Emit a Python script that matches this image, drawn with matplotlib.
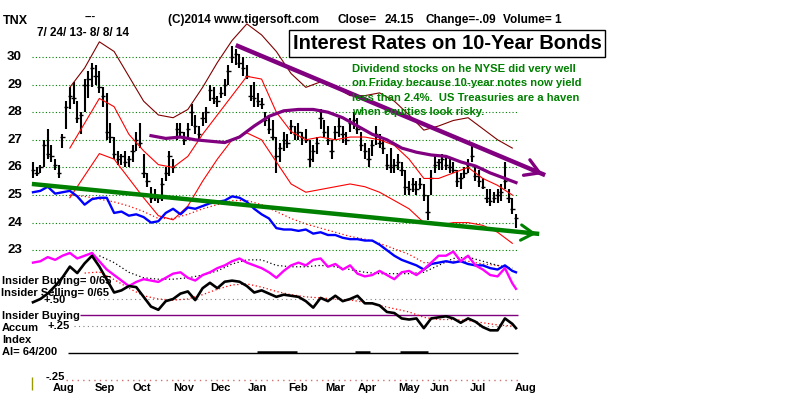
import numpy as np
import matplotlib
matplotlib.use('Agg')
from matplotlib import pyplot as plt

# TNX (10-year yield x10), 7/24/13 - 8/8/14.
# One bar per two sessions.
highs = [26.2, 26.0, 26.1, 27.0, 27.4, 26.8, 26.3, 26.1, 27.2, 28.4,
         28.9, 29.1, 28.4, 28.0, 29.2, 29.5, 29.8, 29.7, 29.5, 28.9,
         28.7, 27.6, 27.1, 26.6, 26.5, 26.6, 26.4, 26.8, 27.3, 27.6,
         26.5, 25.8, 25.3, 25.2, 25.0, 25.6, 26.0, 26.6, 26.3, 27.6,
         27.6, 27.3, 27.6, 28.3, 27.9, 27.5, 28.0, 28.2, 29.0, 28.9,
         28.6, 28.9, 29.2, 29.7, 30.4, 30.3, 30.1, 30.0, 29.7, 29.0,
         29.1, 28.7, 28.5, 28.0, 27.9, 27.7, 27.1, 26.9, 27.3, 27.2,
         27.7, 27.5, 27.6, 27.3, 27.4, 27.0, 26.8, 27.1, 28.1, 27.7,
         27.5, 27.0, 27.5, 27.8, 27.5, 27.3, 27.8, 28.0, 27.8, 27.3,
         26.9, 26.7, 27.0, 27.5, 27.2, 27.0, 26.5, 26.7, 26.3, 26.5,
         26.2, 25.9, 25.5, 25.6, 25.5, 25.6, 25.4, 25.0, 25.9, 26.4,
         26.3, 26.5, 26.4, 26.3, 26.2, 25.9, 25.8, 26.0, 26.3, 26.9,
         26.1, 25.9, 25.6, 25.2, 25.2, 25.1, 25.2, 25.4, 26.2, 25.2,
         24.9, 24.3]
lows = [25.6, 25.7, 25.8, 26.0, 26.3, 26.2, 25.9, 25.6, 26.7, 27.4,
        28.1, 28.3, 27.6, 27.2, 28.0, 28.5, 28.9, 29.0, 28.7, 28.2,
        27.0, 26.9, 26.3, 26.1, 26.1, 26.0, 26.0, 26.2, 26.6, 26.7,
        25.6, 25.3, 24.7, 24.8, 24.7, 24.8, 25.5, 25.7, 25.8, 27.0,
        27.1, 26.8, 27.1, 27.5, 27.2, 27.0, 27.5, 27.6, 28.4, 28.3,
        28.2, 28.5, 28.6, 29.0, 29.8, 29.7, 29.6, 29.3, 29.2, 28.4,
        28.2, 28.2, 28.1, 27.5, 27.2, 27.0, 25.8, 26.2, 26.6, 26.7,
        27.2, 27.0, 27.0, 26.8, 26.9, 26.0, 26.2, 26.5, 27.4, 27.1,
        26.8, 26.3, 27.0, 27.1, 26.9, 26.8, 27.3, 27.4, 27.2, 26.6,
        26.3, 26.0, 26.4, 26.8, 26.7, 26.5, 25.9, 25.8, 25.8, 25.9,
        25.7, 25.0, 25.0, 25.1, 25.0, 25.2, 24.8, 24.1, 25.0, 25.8,
        25.9, 25.9, 25.9, 25.8, 25.8, 25.3, 25.2, 25.6, 25.8, 26.2,
        25.5, 25.3, 25.2, 24.7, 24.6, 24.7, 24.7, 24.8, 25.2, 24.7,
        24.3, 23.8]
closes = [25.9, 25.8, 26.0, 26.8, 26.5, 26.4, 26.1, 25.8, 27.1, 28.2,
          28.6, 28.5, 27.8, 27.9, 29.0, 29.2, 29.6, 29.3, 28.9, 28.6,
          27.3, 27.1, 26.5, 26.3, 26.4, 26.2, 26.3, 26.6, 27.0, 26.9,
          25.8, 25.5, 24.9, 25.0, 24.9, 25.4, 25.8, 26.4, 26.0, 27.4,
          27.3, 27.0, 27.4, 28.0, 27.5, 27.2, 27.8, 28.0, 28.8, 28.5,
          28.4, 28.7, 29.0, 29.5, 30.0, 30.1, 29.8, 29.6, 29.3, 28.6,
          28.5, 28.4, 28.3, 27.7, 27.4, 27.1, 26.4, 26.7, 27.0, 26.9,
          27.5, 27.2, 27.3, 27.1, 27.0, 26.3, 26.6, 26.9, 27.8, 27.3,
          27.0, 26.6, 27.3, 27.5, 27.2, 27.0, 27.6, 27.7, 27.4, 26.8,
          26.6, 26.3, 26.8, 27.2, 26.9, 26.7, 26.1, 26.0, 26.1, 26.2,
          25.9, 25.3, 25.2, 25.4, 25.2, 25.4, 25.0, 24.4, 25.6, 26.1,
          26.2, 26.3, 26.1, 26.0, 25.9, 25.5, 25.6, 25.8, 26.1, 26.4,
          25.7, 25.5, 25.3, 24.9, 24.8, 24.9, 25.0, 25.1, 25.5, 24.9,
          24.5, 24.15]

# bands, sampled every 4 bars from bar 10
band_x = np.arange(10, 131, 4)
upper_outer = [28.9, 29.6, 30.55, 30.2, 29.3, 28.4, 27.9, 27.8, 28.1, 28.9,
               29.8, 30.6, 31.2, 30.8, 30.2, 29.4, 28.9, 29.1, 28.9, 28.6,
               28.6, 28.7, 28.4, 27.9, 27.35, 27.5, 27.7, 27.8, 27.4, 27.0,
               26.7]
upper_inner = [26.7, 27.6, 28.5, 28.2, 27.2, 26.6, 26.1, 26.0, 26.4, 27.2,
               27.9, 28.6, 29.3, 29.2, 28.0, 27.3, 27.0, 27.1, 27.0, 27.1,
               27.1, 27.0, 26.8, 26.3, 25.6, 25.6, 25.8, 26.0, 25.6, 25.35,
               25.0]
lower_inner = [24.9, 25.7, 26.5, 26.3, 25.6, 24.9, 24.25, 24.1, 24.6, 25.5,
               26.3, 27.0, 27.25, 27.0, 26.2, 25.4, 25.1, 25.2, 25.3, 25.4,
               25.3, 25.1, 24.8, 24.5, 24.0, 23.9, 24.0, 24.0, 23.9, 23.65,
               23.25]
rs_ma = [25.0, 24.95, 24.85, 24.75, 24.6, 24.4, 24.15, 24.15, 24.3, 24.5,
         24.65, 24.8, 24.8, 24.65, 24.4, 24.15, 23.95, 23.8, 23.65, 23.5,
         23.4, 23.25, 23.05, 22.85, 22.55, 22.55, 22.6, 22.6, 22.5, 22.45,
         22.3]

# purple moving average
ma_x = np.r_[np.arange(32, 129, 4), 131]
ma_vals = [27.15, 27.05, 27.1, 27.0, 26.95, 26.9, 27.1, 27.5, 27.85, 28.05,
           28.1, 28.1, 28.0, 27.8, 27.5, 27.2, 27.0, 26.7, 26.55, 26.45,
           26.4, 26.2, 26.05, 25.8, 25.6, 25.45]

# hand drawn trend lines (bar index, price)
purple_trend_x = [55.0, 138.9]
purple_trend_y = [30.43, 25.72]
green_trend_x = [-0.3, 137.3]
green_trend_y = [25.4, 23.59]

# oscillators, every 2 bars
osc_x = np.r_[np.arange(0, 131, 2), 131]
rel_strength = [25.1, 25.15, 25.3, 25.05, 25.1, 25.15, 24.95, 24.65, 24.85, 24.9,
                24.9, 24.35, 24.4, 24.25, 24.3, 24.2, 24.0, 24.05, 24.35, 24.5,
                24.3, 24.55, 24.5, 24.6, 24.7, 24.75, 24.8, 24.95, 24.9, 24.75,
                24.5, 24.3, 24.15, 23.8, 23.75, 23.75, 23.7, 23.75, 23.6, 23.65,
                23.55, 23.55, 23.45, 23.4, 23.4, 23.35, 23.35, 23.2, 23.0, 22.8,
                22.65, 22.55, 22.45, 22.3, 22.5, 22.55, 22.6, 22.55, 22.6, 22.5,
                22.45, 22.45, 22.35, 22.3, 22.45, 22.25, 22.2]
opening_power = [22.55, 22.6, 22.75, 22.65, 22.8, 22.9, 22.7, 22.8, 22.9, 22.6,
                 22.3, 22.1, 21.9, 21.7, 21.85, 21.95, 21.9, 21.85, 22.0, 22.15,
                 22.2, 22.0, 21.9, 22.1, 22.2, 22.35, 22.45, 22.6, 22.7, 22.55,
                 22.45, 22.35, 22.2, 22.0, 22.25, 22.45, 22.55, 22.45, 22.65, 22.7,
                 22.4, 22.5, 22.3, 22.45, 22.15, 22.05, 22.1, 22.25, 22.1, 21.95,
                 22.2, 22.25, 22.1, 22.3, 22.55, 22.8, 22.8, 22.95, 22.6, 22.8,
                 22.45, 22.3, 22.1, 22.05, 22.35, 21.8, 21.6]
accum = [0.47, 0.50, 0.55, 0.62, 0.70, 0.80, 0.74, 0.83, 0.90, 0.80,
         0.68, 0.56, 0.58, 0.62, 0.61, 0.52, 0.43, 0.40, 0.48, 0.50,
         0.55, 0.57, 0.49, 0.60, 0.65, 0.60, 0.66, 0.67, 0.66, 0.62,
         0.56, 0.58, 0.55, 0.52, 0.54, 0.53, 0.52, 0.48, 0.42, 0.51,
         0.48, 0.53, 0.48, 0.50, 0.53, 0.46, 0.46, 0.44, 0.38, 0.37,
         0.32, 0.31, 0.32, 0.23, 0.32, 0.33, 0.34, 0.32, 0.28, 0.32,
         0.29, 0.24, 0.21, 0.21, 0.32, 0.27, 0.23]

op_ma_x = np.arange(18, 131, 4)
op_ma = [22.8, 22.55, 22.2, 22.0, 21.95, 21.95, 22.0, 22.1, 22.25, 22.5,
         22.65, 22.65, 22.45, 22.4, 22.4, 22.45, 22.4, 22.3, 22.2, 22.15,
         22.15, 22.15, 22.2, 22.45, 22.7, 22.75, 22.6, 22.45, 22.35]
accum_ma_x = np.arange(14, 131, 4)
accum_ma = [0.74, 0.75, 0.68, 0.60, 0.53, 0.50, 0.49, 0.50, 0.54, 0.59,
            0.63, 0.64, 0.61, 0.57, 0.54, 0.52, 0.51, 0.50, 0.49, 0.47,
            0.44, 0.41, 0.38, 0.33, 0.31, 0.31, 0.30, 0.28, 0.26, 0.25]

insider_level = 0.35
ai_bumps = [(60.8, 71.6), (87.3, 91.4), (99.5, 107.0)]

price_levels = [30, 29, 28, 27, 26, 25, 24, 23]
month_names = ['Aug', 'Sep', 'Oct', 'Nov', 'Dec', 'Jan', 'Feb', 'Mar',
               'Apr', 'May', 'Jun', 'Jul', 'Aug']
month_pos = [5.4, 16.8, 26.9, 38.0, 48.0, 58.3, 69.2, 79.2, 88.1, 99.0,
             107.7, 118.5, 130.7]

green_note = ['Dividend stocks on he NYSE did very well',
              'on Friday because 10-year notes now yield',
              'less than 2.4%.  US Treasuries are a haven',
              'when equities look risky.']

W, H = 800, 397
FONT = 'Liberation Sans'
GREEN = '#008000'
PURPLE = '#800080'


def put(x, y, s, size=8, **kw):
    """text at pixel position (from top left)"""
    kw.setdefault('va', 'center')
    kw.setdefault('ha', 'left')
    kw.setdefault('color', 'black')
    fig.text(x / W, 1 - y / H, s, fontsize=size, family=FONT,
             fontweight='bold', **kw)


fig = plt.figure(figsize=(W / 100, H / 100), dpi=100)

# price axes fills the whole picture; bar i sits at pixel 33 + 3.687 i
px_per_bar = 3.687
ax = fig.add_axes([0, 0, 1, 1])
ax.set_xlim(-33 / px_per_bar, (W - 33) / px_per_bar)
ax.set_ylim(30 - (H - 57) / 27.6, 30 + 57 / 27.6)
ax.axis('off')

ax2 = fig.add_axes([0, 0, 1, 1], facecolor='none')
ax2.set_xlim(ax.get_xlim())
ax2.set_ylim(-(H - 353) / 108, 353 / 108)
ax2.axis('off')

ax.hlines(price_levels, -0.3, 131.5, colors=GREEN, linestyles=(0, (1, 2)), lw=0.8)

idx = np.arange(len(highs))
ax.vlines(idx, lows, highs, color='black', lw=1.5)
ax.hlines(closes, idx - 0.6, idx + 0.6, color='black', lw=1.0)

ax.plot(band_x, upper_outer, color='#800000', lw=0.8)
ax.plot(band_x, upper_inner, color='red', lw=0.8)
ax.plot(band_x, lower_inner, color='red', lw=0.8)
ax.plot(ma_x, ma_vals, color=PURPLE, lw=2.3)

ax.plot(band_x, rs_ma, color='red', lw=0.9, ls=(0, (1, 2)))
ax.plot(op_ma_x, op_ma, color='black', lw=0.9, ls=(0, (1, 2)))
ax.plot(osc_x, rel_strength, color='#0000ff', lw=1.7)
ax.plot(osc_x, opening_power, color='#ff00ff', lw=1.7)

ax.plot(green_trend_x, green_trend_y, color=GREEN, lw=3.2, solid_capstyle='butt')
ax.annotate('', xy=(green_trend_x[1], green_trend_y[1]),
            xytext=(green_trend_x[1] - 4, green_trend_y[1] + 0.04),
            arrowprops=dict(arrowstyle='->,head_length=0.9,head_width=0.55',
                            color=GREEN, lw=2.2))
ax.plot(purple_trend_x, purple_trend_y, color=PURPLE, lw=3.2, solid_capstyle='butt')
ax.annotate('', xy=(purple_trend_x[1], purple_trend_y[1]),
            xytext=(purple_trend_x[1] - 4, purple_trend_y[1] + 0.22),
            arrowprops=dict(arrowstyle='->,head_length=1.0,head_width=0.6',
                            color=PURPLE, lw=2.4))

# lower panel
ax2.hlines(0.5, 18, 131.5, colors='#808080', linestyles=(0, (1, 3)), lw=0.8)
ax2.hlines(0.25, 11, 131.5, colors='#808080', linestyles=(0, (1, 3)), lw=0.8)
ax2.hlines(-0.25, 9, 131.5, colors='#d07070', linestyles=(0, (1, 3)), lw=1.0)
ax2.hlines(insider_level, 12.7, 131.5, colors=PURPLE, lw=1.0)
ax2.hlines(0, 9.5, 131.5, colors='black', lw=1.0)
for a, b in ai_bumps:
    ax2.hlines(0.006, a, b, colors='black', lw=1.8)
ax2.vlines(-0.3, -0.34, -0.22, colors='#999900', lw=1.0)
ax2.plot(accum_ma_x, accum_ma, color='red', lw=0.9, ls=(0, (1, 2)))
ax2.plot(osc_x, accum, color='black', lw=1.9)

# texts
put(3, 21, 'TNX', size=9)
put(85, 17, '---', size=8)
put(37, 33, '7/ 24/ 13- 8/ 8/ 14', size=8.5)
put(168, 20, '(C)2014 www.tigersoft.com', size=8.5)
put(338, 20, 'Close=', size=8.5)
put(385, 20, '24.15', size=8.5)
put(425, 20, 'Change=-.09', size=8.5)
put(503, 20, 'Volume= 1', size=8.5)
put(447, 43.5, 'Interest Rates on 10-Year Bonds', size=14.5, ha='center',
    bbox=dict(boxstyle='square,pad=0.2', fc='white', ec='black', lw=1.0))
for k, line in enumerate(green_note):
    put(352, 69 + 14.4 * k, line, size=8.1, color=GREEN)

for lv in price_levels:
    ax.text(22 / W, lv, str(lv), transform=ax.get_yaxis_transform(),
            ha='right', va='center', fontsize=9.5, family=FONT, fontweight='bold')

put(43, 300, '+.50', size=8)
put(2, 281, 'Insider Buying= 0/65', size=8)
put(1, 293, 'Insider Selling= 0/65', size=8)
put(2, 316, 'Insider Buying', size=8)
put(2, 328, 'Accum', size=8)
put(47, 326, '+.25', size=8)
put(2, 340, 'Index', size=8)
put(2, 352, 'AI= 64/200', size=8)
put(46, 377, '-.25', size=8)

for name, pos in zip(month_names, month_pos):
    ax.text(pos, 1 - 388 / H, name, transform=ax.get_xaxis_transform(),
            ha='left', va='center', fontsize=8, family=FONT, fontweight='bold')

put(5, 402, 'For Last 65 days stock changed -6.9% or -1.8 points;  Public accounts for  .22 points ;  '
    'Professionals account for -2.02 points', size=8)

fig.savefig('out.png', dpi=100)
